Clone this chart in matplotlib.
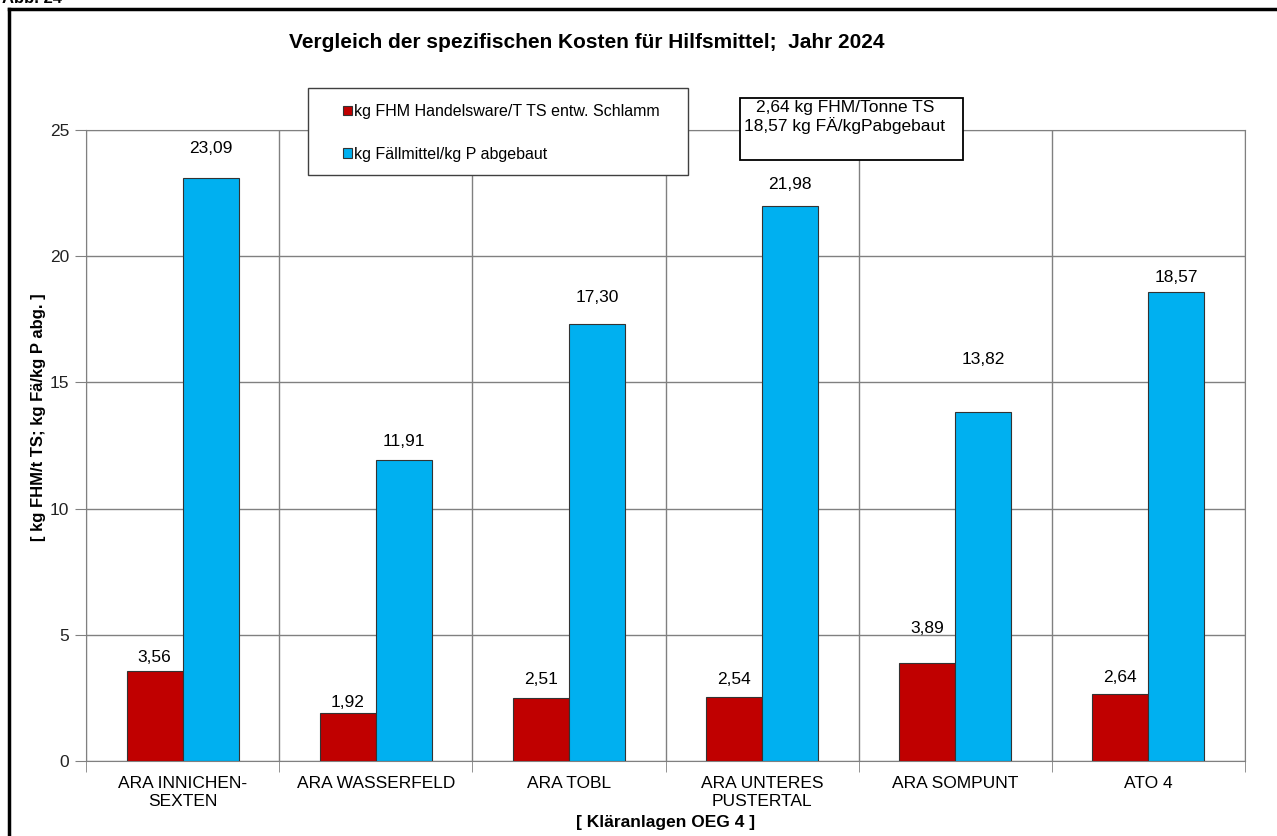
import numpy as np
import matplotlib.pyplot as plt
from matplotlib.patches import Rectangle
from matplotlib.lines import Line2D

plt.rcParams['font.family'] = ['Liberation Sans', 'DejaVu Sans']

anlagen = ['ARA INNICHEN-\nSEXTEN', 'ARA WASSERFELD', 'ARA TOBL',
           'ARA UNTERES\nPUSTERTAL', 'ARA SOMPUNT', 'ATO 4']
fhm = [3.56, 1.92, 2.51, 2.54, 3.89, 2.64]
faellmittel = [23.09, 11.91, 17.30, 21.98, 13.82, 18.57]
fhm_labels = ['3,56', '1,92', '2,51', '2,54', '3,89', '2,64']
faell_labels = ['23,09', '11,91', '17,30', '21,98', '13,82', '18,57']

# label offsets above the bar top (pixels), as placed in the original
fhm_dy = [14, 10, 18, 17, 34, 17]
faell_dy = [30, 19, 27, 22, 53, 15]

W, H = 1277, 836
fig = plt.figure(figsize=(W / 100, H / 100), dpi=100)
ax = fig.add_axes([86 / W, 1 - 761 / H, (1245 - 86) / W, (761 - 130) / H])

x = np.arange(len(anlagen))
bw = 0.29
red = '#C00000'
blue = '#00B0F0'
b1 = ax.bar(x - bw / 2, fhm, bw, color=red, edgecolor='#333333', linewidth=0.8, zorder=3)
b2 = ax.bar(x + bw / 2, faellmittel, bw, color=blue, edgecolor='#333333', linewidth=0.8, zorder=3)

for i in range(len(x)):
    ax.annotate(fhm_labels[i], (x[i] - bw / 2, fhm[i]), xytext=(0, fhm_dy[i]),
                textcoords='offset pixels', ha='center', va='center', fontsize=12.5)
    ax.annotate(faell_labels[i], (x[i] + bw / 2, faellmittel[i]), xytext=(0, faell_dy[i]),
                textcoords='offset pixels', ha='center', va='center', fontsize=12.5)

ax.set_xlim(-0.5, len(x) - 0.5)
ax.set_ylim(0, 25)
ax.set_yticks([0, 5, 10, 15, 20, 25])
ax.set_xticks(x)
ax.set_xticklabels(anlagen, fontsize=12.5, linespacing=1.2)
ax.set_xticks(np.arange(-0.5, len(x), 1), minor=True)
ax.tick_params(axis='x', which='major', length=0, pad=11)
ax.tick_params(axis='x', which='minor', length=8, color='#808080', direction='out')
ax.tick_params(axis='y', length=8, color='#808080', labelsize=12.5, pad=4, labelcolor='#222222')
ax.grid(True, axis='y', which='major', color='#808080', linewidth=1, zorder=0)
ax.grid(True, axis='x', which='minor', color='#808080', linewidth=1, zorder=0)
for s in ax.spines.values():
    s.set_color('#808080')
ax.set_axisbelow(True)

ax.set_ylabel('[ kg FHM/t TS; kg Fä/kg P abg. ]', fontsize=12, fontweight='bold', va='center')
ax.yaxis.set_label_coords((38 - 86) / 1159, (761 - 417) / 631)
ax.set_xlabel('[ Kläranlagen OEG 4 ]', fontsize=12.5, fontweight='bold', va='center')
ax.xaxis.set_label_coords(0.5, (761 - 822) / 631)

fig.text(587 / W, 1 - 43 / H, 'Vergleich der spezifischen Kosten für Hilfsmittel;  Jahr 2024',
         ha='center', va='center', fontsize=15, fontweight='bold')

# legend box
fig.patches.append(Rectangle((308 / W, 1 - 175 / H), 380 / W, 87 / H, transform=fig.transFigure,
                             facecolor='white', edgecolor='#404040', linewidth=1, zorder=5))
leg = fig.legend([b1, b2], ['kg FHM Handelsware/T TS entw. Schlamm', 'kg Fällmittel/kg P abgebaut'],
                 loc='upper left', bbox_to_anchor=(335 / W, 1 - 96 / H), frameon=False,
                 fontsize=11.5, handlelength=0.55, handleheight=0.55, handletextpad=0.15,
                 labelspacing=1.75, borderpad=0)
leg.set_zorder(6)

# info box
fig.patches.append(Rectangle((740 / W, 1 - 160 / H), 223 / W, 62 / H, transform=fig.transFigure,
                             facecolor='white', edgecolor='black', linewidth=1.3, zorder=5))
fig.text(845 / W, 1 - 117 / H, '2,64 kg FHM/Tonne TS\n18,57 kg FÄ/kgPabgebaut', ha='center',
         va='center', fontsize=12.5, linespacing=1.12, zorder=6)

# outer frame
fig.add_artist(Line2D([9 / W, 9 / W], [0, 1 - 9 / H], color='black', linewidth=2.5))
fig.add_artist(Line2D([9 / W, 1], [1 - 9 / H, 1 - 9 / H], color='black', linewidth=2.5))
fig.text(2 / W, 1 - 3 / H, 'Abb. 24', ha='left', va='baseline', fontsize=12, fontweight='bold')

fig.savefig('out.png', dpi=100)
